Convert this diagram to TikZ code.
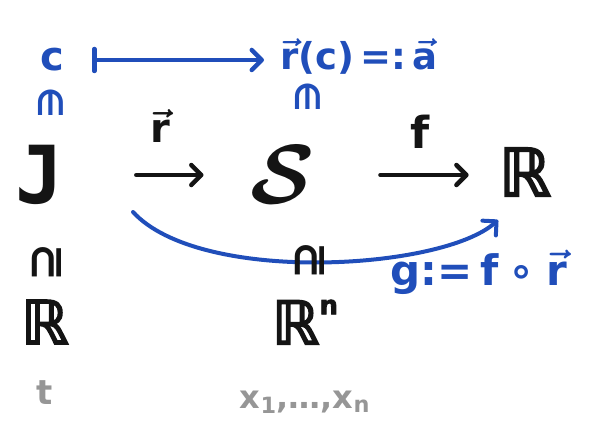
\documentclass[tikz,border=0pt]{standalone}
\usepackage{fix-cm}
\usepackage{amsmath}
\usepackage{fontspec}
\setmainfont{DejaVu Sans}
\newfontfamily\bbR{DejaVu Sans}[FakeBold=3]
\newfontfamily\monoJ{DejaVu Sans Mono Bold}
\usetikzlibrary{arrows.meta}
\definecolor{ink}{RGB}{20,20,20}
\definecolor{pen}{RGB}{32,78,186}
\definecolor{lead}{RGB}{150,150,150}
\newcommand\fsz[1]{\fontsize{#1}{#1}\selectfont\bfseries}
\newcommand\fsn[1]{\fontsize{#1}{#1}\selectfont}
\newcommand\vr{{\boldmath$\vec{\text{r}}$}}
\newcommand\va{{\boldmath$\vec{\text{a}}$}}
\newcommand\calS{{\boldmath$\mathcal{S}$}}
\tikzset{
  txt/.style={inner sep=0pt, text=ink},
  blu/.style={inner sep=0pt, text=pen},
  grey/.style={inner sep=0pt, text=lead},
  tipb/.style={-{Straight Barb[length=10pt,width=20pt,round]}},
  arr/.style={draw=ink, line width=4.5pt, line cap=round, tipb},
  barr/.style={draw=pen, line width=4pt, line cap=round, tipb},
  maps/.style={draw=pen, line width=4.5pt, line cap=round, {Bar[width=22pt,round]}-{Straight Barb[length=10pt,width=20pt,round]}}
}
\begin{document}
\begin{tikzpicture}[x=1pt,y=-1pt]
\useasboundingbox (0,0) rectangle (613,441);
% top row
\node[blu, font=\fsz{40}] (c) at (52,60) {c};
\node[blu, font=\fsz{37}, anchor=base west] (rc) at (280,70) {\vr(c)\,=:\,\va};
\draw[maps, shorten <=28pt, shorten >=16pt] (c.east) -- (c.east -| rc.west);
\node[blu, font=\fsz{34}, rotate=-90] (in1) at (51,103) {∈};
\node[blu, font=\fsz{34}, rotate=-90] (in2) at (308,97) {∈};
% main row
\node[txt, font=\fsn{80}\monoJ] (J) at (40,175) {J};
\node[txt, font=\fsz{84}] (S) at (283,175) {\calS};
\node[txt, font=\fsn{66}\bbR] (R) at (525,172) {ℝ};
\draw[arr, shorten <=72pt, shorten >=47pt] (J.east |- S.west) -- (S.west);
\draw[arr, shorten <=65pt, shorten >=30pt] (S.east) -- (S.east -| R.west);
\node[txt, font=\fsz{40}] (rl) at (160,126) {\vr};
\node[txt, font=\fsz{44}] (fl) at (420,132) {f};
% composite
\coordinate (gs) at (133,212);
\coordinate (ge) at (498,220);
\draw[barr] (gs) .. controls (200,285) and (443,270) .. (ge);
\node[blu, font=\fsz{42}, anchor=west] (g) at (390,272) {g:=\hspace{8pt}f\hspace{10pt}∘\hspace{12pt}\vr};
% lower columns
\node[txt, font=\fsz{46}, rotate=90] (sub1) at (47,262) {⊇};
\node[txt, font=\fsz{46}, rotate=90] (sub2) at (310,260) {⊇};
\node[txt, font=\fsn{60}\bbR] (R1) at (45,322) {ℝ};
\node[txt, font=\fsn{60}\bbR] (Rn) at (305,322) {ℝ\raisebox{0.5em}{\fsz{26}n}};
\node[grey, font=\fsz{34}] (t) at (45,393) {t};
\node[grey, font=\fsz{32}] (xs) at (305,402) {x\textsubscript{1},…,x\textsubscript{n}};
\end{tikzpicture}
\end{document}
